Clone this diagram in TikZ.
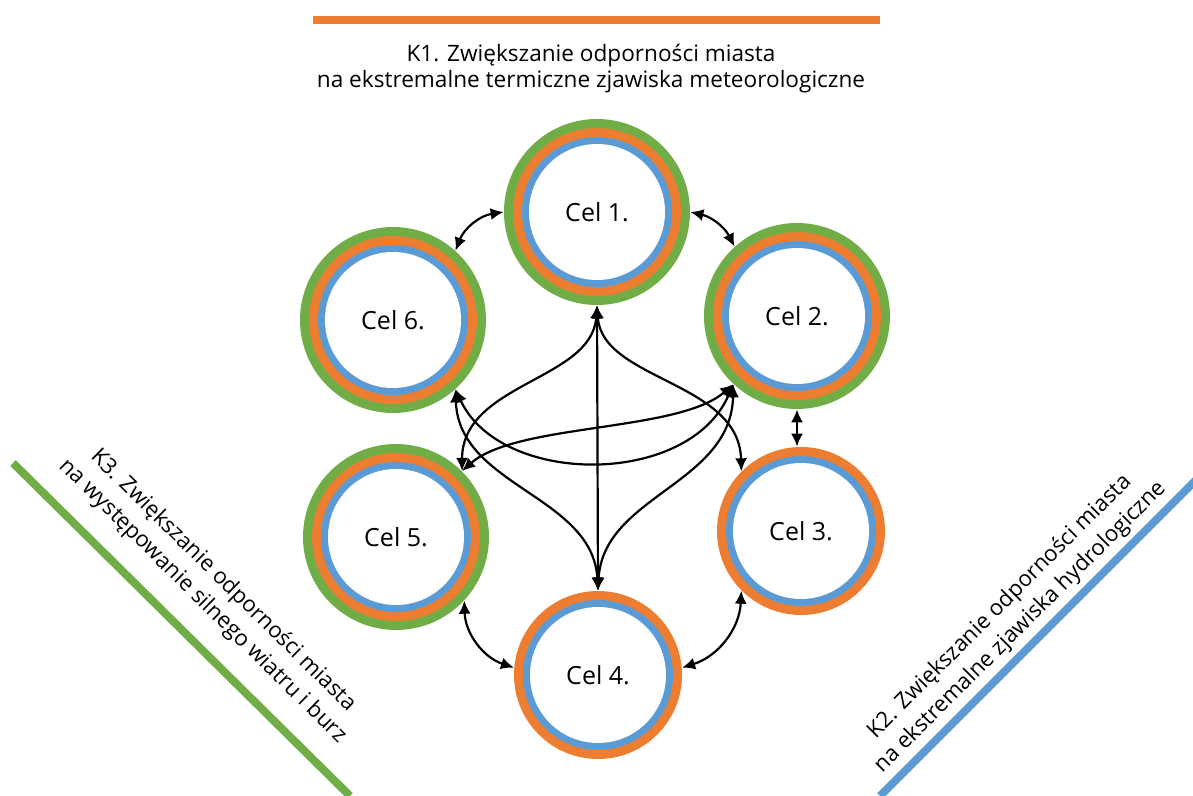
\documentclass[tikz,border=0pt]{standalone}
\usepackage{fontspec}
\setmainfont{Open Sans}
\usetikzlibrary{arrows.meta}
\definecolor{cgreen}{HTML}{70AD47}
\definecolor{corange}{HTML}{ED7D31}
\definecolor{cblue}{HTML}{5B9BD5}
\begin{document}
\begin{tikzpicture}[x=0.5pt,y=-0.5pt,
  cel/.style={circle, minimum size=#1, inner sep=0pt, font=\fontsize{12.5}{15}\selectfont},
  link/.style={line width=1.1pt, {Latex[length=6.5pt,width=6pt]}-{Latex[length=6.5pt,width=6pt]}},
  heading/.style={font=\fontsize{11.3}{13}\selectfont, align=center, inner sep=0pt},
  slanted/.style={font=\fontsize{11.1}{14.5}\selectfont, align=center, inner sep=0pt},
  ringG/.style={fill=cgreen},
  ringO/.style={fill=corange},
  ringB/.style={fill=cblue},
  ringW/.style={fill=white}]
\useasboundingbox (0,0) rectangle (1193,796);

% bars
\draw[corange, line width=4pt] (313,20) -- (880,20);
\draw[cgreen, line width=4pt] (13,463) -- (350,796);
\draw[cblue, line width=4pt] (880,796) -- (1196,480);

% headings
\node[heading] (k1) at (591,69) {K1. Zwiększanie odporności miasta\\na ekstremalne termiczne zjawiska meteorologiczne};
\node[slanted, rotate=-44.6] (k3) at (213,591) {K3. Zwiększanie odporności miasta\\na występowanie silnego wiatru i burz};
\node[slanted, rotate=45] (k2) at (1010,617) {K2. Zwiększanie odporności miasta\\na ekstremalne zjawiska hydrologiczne};

% rings with green
\foreach \p in {(597,212),(797,316),(396,537),(393,320)}{
  \fill[ringG] \p circle[radius=46.5pt];
  \fill[ringO] \p circle[radius=42pt];
  \fill[ringB] \p circle[radius=37.5pt];
  \fill[ringW] \p circle[radius=34pt];
}
% rings without green
\foreach \p in {(801,531),(598,675)}{
  \fill[ringO] \p circle[radius=42pt];
  \fill[ringB] \p circle[radius=37.5pt];
  \fill[ringW] \p circle[radius=34pt];
}

\node[cel=93pt] (c1) at (597,212) {Cel 1.};
\node[cel=93pt] (c2) at (797,316) {Cel 2.};
\node[cel=84pt] (c3) at (801,531) {Cel 3.};
\node[cel=84pt] (c4) at (598,675) {Cel 4.};
\node[cel=93pt] (c5) at (396,537) {Cel 5.};
\node[cel=93pt] (c6) at (393,320) {Cel 6.};

% adjacent links
\draw[link] (c6.48) to[bend left=30] (c1.180);
\draw[link] (c1.0) to[bend left=25] (c2.132);
\draw[link] (c2.south) -- (c2.south |- c3.north);
\draw[link] (c3.-135) to[bend left=35] (c4.5);
\draw[link] (c4.175) to[bend left=35] (c5.-43);

% cross links
\draw[link] (c1.south) -- (c4.north);
\draw[link] (c1.south) .. controls +(-5,75) and +(0,-88) .. (c5.45);
\draw[link] (c1.south) .. controls +(5,75) and +(-2,-90) .. (c3.135);
\draw[link] (c4.north) .. controls +(-5,-95) and +(3,97) .. (c6.-48);
\draw[link] (c4.north) .. controls +(5,-95) and +(-2,100) .. (c2.-133);
\draw[link] (c5.45) .. controls +(55,-48) and +(-55,48) .. (c2.-133);
\draw[link] (c6.-48) .. controls +(45,97) and +(-45,103) .. (c2.-133);
\end{tikzpicture}
\end{document}
